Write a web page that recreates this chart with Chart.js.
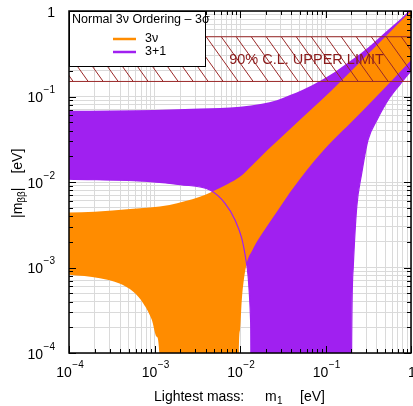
<!DOCTYPE html>
<html>
<head>
<meta charset="utf-8">
<script src="https://cdn.jsdelivr.net/npm/chart.js@4.4.0/dist/chart.umd.min.js"></script>
<style>
  html, body { margin: 0; padding: 0; background: #fff; }
  #wrap { width: 413px; height: 406px; }
</style>
</head>
<body>
<div id="wrap"><canvas id="grafico" width="413" height="406"></canvas></div>
<script>
// decadas de los ejes (10^-4 ... 1)
const decadas = [-4, -3, -2, -1, 0];

// banda 3nu, ordenamiento normal (borde superior / inferior)
const nuSupX = [1e-4, 2e-4, 5.2e-4, 1.5e-3, 3.4e-3, 4.7e-3, 7.2e-3, 0.01, 0.014, 0.021, 0.032, 0.05, 0.091, 0.15, 0.3, 0.55, 1];
const nuSupY = [4.4e-3, 4.5e-3, 4.83e-3, 5.4e-3, 6.7e-3, 7.7e-3, 9.5e-3, 0.0115, 0.0158, 0.0237, 0.035, 0.053, 0.092, 0.15, 0.3, 0.55, 1];
const nuInfX = [1e-4, 2.3e-4, 3.9e-4, 5.65e-4, 7.4e-4, 9.3e-4, 1.06e-3, 1.14e-3, 1.16e-3, 9.6e-3, 9.73e-3, 0.0100, 0.0105, 0.01175, 0.014, 0.0205, 0.028, 0.0385, 0.05, 0.075, 0.123, 0.2, 0.36, 0.6, 1];
const nuInfY = [8.2e-4, 7.5e-4, 6.5e-4, 5.2e-4, 3.8e-4, 2.45e-4, 1.55e-4, 1.0e-4, 0, 0, 1.0e-4, 1.86e-4, 4.2e-4, 1.02e-3, 1.6e-3, 3.0e-3, 4.75e-3, 7.6e-3, 0.0108, 0.018, 0.031, 0.05, 0.091, 0.155, 0.265];

// banda 3+1
const estSupX = [1e-4, 1e-3, 3.4e-3, 0.01, 0.018, 0.027, 0.0385, 0.055, 0.086, 0.13, 0.2, 0.32, 0.5, 0.75, 1];
const estSupY = [0.068, 0.0695, 0.0724, 0.076, 0.082, 0.0905, 0.104, 0.121, 0.152, 0.195, 0.265, 0.38, 0.565, 0.8, 1.06];
const estInfX = [1e-4, 8.9e-4, 2e-3, 4.5e-3, 6.68e-3, 8.75e-3, 0.01047, 0.01175, 0.0124, 0.0129, 0.0133, 0.0134, 0.01345, 0.2, 0.202, 0.211, 0.232, 0.265, 0.314, 0.4, 0.54, 0.75, 1];
const estInfY = [0.0108, 0.0101, 9.3e-3, 8.0e-3, 5.63e-3, 3.6e-3, 2.2e-3, 1.22e-3, 8.2e-4, 4.7e-4, 2.4e-4, 1.0e-4, 0, 0, 1.0e-4, 1.0e-3, 5.1e-3, 0.0126, 0.031, 0.053, 0.091, 0.14, 0.2];

// limite superior 90% C.L. (franja rayada)
const limiteX = [1e-4, 1];
const limiteInf = [0.15, 0.15];
const limiteSup = [0.5, 0.5];

const CERO = 1e-6; // el cero no existe en escala log
const naranja = '#ff8c00';
const morado = '#a020f0';
const rojoCL = '#9a2828';
const FUENTE = '"Liberation Sans", Arial, sans-serif';

function puntos(xs, ys) {
  return xs.map((x, i) => ({ x: x, y: ys[i] > 0 ? ys[i] : CERO }));
}

const marcas = [];
decadas.forEach(e => {
  for (let m = 1; m <= 9; m++) {
    const v = m * Math.pow(10, e);
    if (v <= 1.0000001) marcas.push(v);
  }
});
function esMayor(v) {
  const l = Math.log10(v);
  return Math.abs(l - Math.round(l)) < 1e-9;
}

function patronRayado() {
  const c = document.createElement('canvas');
  c.width = 15; c.height = 21;
  const g = c.getContext('2d');
  g.strokeStyle = rojoCL; g.lineWidth = 1;
  g.beginPath();
  for (const dx of [-15, 0, 15]) { g.moveTo(dx, 0); g.lineTo(dx + 15, 21); }
  g.stroke();
  return g.createPattern(c, 'repeat');
}

// dibuja trozos de texto uno tras otro (para sub/superindices)
function tramos(ctx, x0, y0, partes) {
  let xx = x0;
  for (const p of partes) {
    ctx.font = p.f;
    ctx.fillText(p.t, xx, y0 + (p.dy || 0));
    xx += ctx.measureText(p.t).width + (p.sep || 0);
  }
  return xx;
}
function anchoTramos(ctx, partes) {
  let w = 0;
  for (const p of partes) { ctx.font = p.f; w += ctx.measureText(p.t).width + (p.sep || 0); }
  return w;
}
function etiquetaPotencia(e) {
  if (e === 0) return [{ t: '1', f: '14px ' + FUENTE }];
  return [{ t: '10', f: '14px ' + FUENTE, sep: 0.5 }, { t: '\u2212' + (-e), f: '10px ' + FUENTE, dy: -8 }];
}

const adornos = {
  id: 'adornos',
  afterDraw(chart) {
    const { ctx, chartArea: a } = chart;
    const x = chart.scales.x, y = chart.scales.y;
    ctx.save();
    ctx.textAlign = 'left';
    ctx.textBaseline = 'middle';

    // texto del limite
    ctx.fillStyle = '#8b1c1c';
    ctx.font = '14.5px ' + FUENTE;
    ctx.textAlign = 'center';
    ctx.fillText('90% C.L. UPPER LIMIT', x.getPixelForValue(0.06), y.getPixelForValue(0.27));
    ctx.textAlign = 'left';

    // marcas hacia adentro en los cuatro lados
    ctx.strokeStyle = '#000';
    ctx.lineWidth = 1;
    ctx.beginPath();
    marcas.forEach(v => {
      const largo = esMayor(v) ? 7 : 4;
      const px = Math.round(x.getPixelForValue(v)) + 0.5;
      const py = Math.round(y.getPixelForValue(v)) + 0.5;
      ctx.moveTo(px, a.bottom); ctx.lineTo(px, a.bottom - largo);
      ctx.moveTo(px, a.top); ctx.lineTo(px, a.top + largo);
      ctx.moveTo(a.left, py); ctx.lineTo(a.left + largo, py);
      ctx.moveTo(a.right, py); ctx.lineTo(a.right - largo, py);
    });
    ctx.stroke();
    ctx.lineWidth = 1.5;
    ctx.strokeRect(a.left, a.top, a.right - a.left, a.bottom - a.top);

    // etiquetas de los ejes
    ctx.fillStyle = '#000';
    decadas.forEach(e => {
      const v = Math.pow(10, e);
      const partes = etiquetaPotencia(e);
      const w = anchoTramos(ctx, partes);
      tramos(ctx, x.getPixelForValue(v) - w / 2 + 1, 373, partes);
      tramos(ctx, 55 - w, y.getPixelForValue(v) + 2, partes);
    });

    // titulo eje x
    const f14 = '14px ' + FUENTE, f10 = '10px ' + FUENTE;
    ctx.font = f14;
    ctx.fillText('Lightest mass:', 154, 397);
    ctx.fillText('m', 265, 397);
    ctx.font = f10;
    ctx.fillText('1', 277, 401);
    ctx.font = f14;
    ctx.fillText('[eV]', 300, 397);

    // titulo eje y
    ctx.save();
    ctx.translate(18, (a.top + a.bottom) / 2);
    ctx.rotate(-Math.PI / 2);
    tramos(ctx, -36, 0, [
      { t: '|m', f: f14 },
      { t: '\u03b2\u03b2', f: f10, dy: 4 },
      { t: '|', f: f14, sep: 14 },
      { t: '[eV]', f: f14 }
    ]);
    ctx.restore();

    // leyenda
    ctx.fillStyle = '#fff';
    ctx.fillRect(a.left, a.top, 136, 55);
    ctx.strokeStyle = '#000';
    ctx.lineWidth = 1;
    ctx.strokeRect(a.left + 0.5, a.top + 0.5, 136, 55);
    ctx.fillStyle = '#000';
    ctx.font = '12.5px ' + FUENTE;
    ctx.fillText('Normal 3\u03bd Ordering \u2013 3\u03c3', a.left + 3, a.top + 9);
    ctx.lineWidth = 2.5;
    ctx.strokeStyle = naranja;
    ctx.beginPath(); ctx.moveTo(a.left + 44, a.top + 28); ctx.lineTo(a.left + 67, a.top + 28); ctx.stroke();
    ctx.strokeStyle = morado;
    ctx.beginPath(); ctx.moveTo(a.left + 44, a.top + 41); ctx.lineTo(a.left + 67, a.top + 41); ctx.stroke();
    ctx.font = '12.5px ' + FUENTE;
    ctx.fillText('3\u03bd', a.left + 76, a.top + 28);
    ctx.fillText('3+1', a.left + 76, a.top + 41);

    ctx.restore();
  }
};

const ejeLog = (horizontal) => ({
  type: 'logarithmic',
  min: 1e-4,
  max: 1,
  afterBuildTicks: s => { s.ticks = marcas.map(v => ({ value: v })); },
  afterFit: s => { if (horizontal) s.height = 0; else s.width = 0; },
  ticks: { display: false },
  grid: { color: '#dadada', lineWidth: 1, drawTicks: false },
  border: { display: false }
});

const suave = { cubicInterpolationMode: 'monotone', capBezierPoints: false };

const ctx = document.getElementById('grafico').getContext('2d');
new Chart(ctx, {
  type: 'line',
  data: {
    datasets: [
      { label: 'limite sup', data: puntos(limiteX, limiteSup), borderColor: rojoCL, borderWidth: 1, backgroundColor: patronRayado(), fill: '+1' },
      { label: 'limite inf', data: puntos(limiteX, limiteInf), borderColor: rojoCL, borderWidth: 1, fill: false },
      Object.assign({ label: '3+1 borde', data: puntos(estInfX, estInfY), borderColor: morado, borderWidth: 1.2, fill: false }, suave),
      Object.assign({ label: '3\u03bd', data: puntos(nuSupX, nuSupY), borderColor: 'transparent', borderWidth: 0, backgroundColor: naranja, fill: '+1' }, suave),
      Object.assign({ label: '3\u03bd inf', data: puntos(nuInfX, nuInfY), borderColor: 'transparent', borderWidth: 0, fill: false }, suave),
      Object.assign({ label: '3+1', data: puntos(estSupX, estSupY), borderColor: 'transparent', borderWidth: 0, backgroundColor: morado, fill: '+1' }, suave),
      Object.assign({ label: '3+1 inf', data: puntos(estInfX, estInfY), borderColor: 'transparent', borderWidth: 0, fill: false }, suave)
    ]
  },
  options: {
    responsive: false,
    devicePixelRatio: 1,
    animation: false,
    layout: { padding: { left: 69, right: 2, top: 11, bottom: 53 } },
    elements: { point: { radius: 0 }, line: { tension: 0 } },
    plugins: { legend: { display: false }, tooltip: { enabled: false } },
    scales: { x: ejeLog(true), y: ejeLog(false) }
  },
  plugins: [adornos]
});
</script>
</body>
</html>
